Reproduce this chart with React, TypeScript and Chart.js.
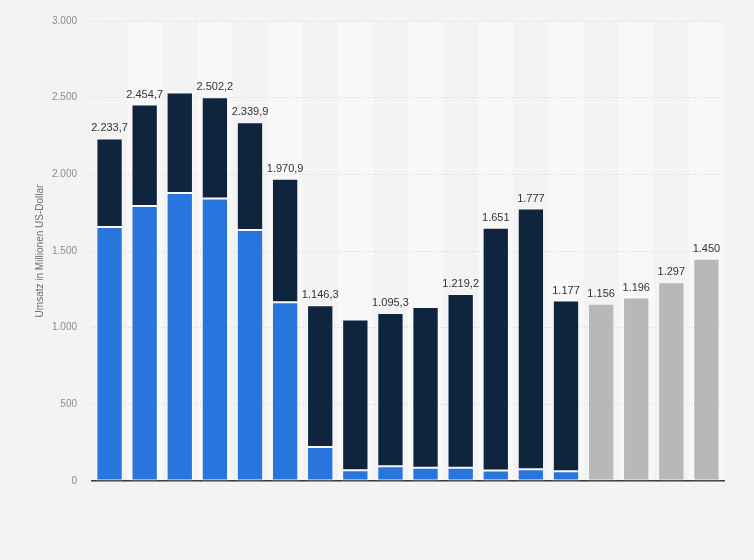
import React, { useEffect, useRef } from "react";
import { Chart, registerables } from "chart.js";

Chart.register(...registerables);

const categories = ["2005", "2006", "2007", "2008", "2009", "2010", "2011", "2012", "2013", "2014", "2015", "2016", "2017", "2018", "2019", "2020", "2021", "2022"];
const blueValues = [1657, 1793, 1878, 1842, 1637, 1165, 222, 70, 96, 87, 87, 68, 76, 63, null, null, null, null];
const totalValues = [2233.7, 2454.7, 2533, 2502.2, 2339.9, 1970.9, 1146.3, 1053, 1095.3, 1135, 1219.2, 1651, 1777, 1177, null, null, null, null];
const grayValues = [null, null, null, null, null, null, null, null, null, null, null, null, null, null, 1156, 1196, 1297, 1450];
const showLabel = [true, true, false, true, true, true, true, false, true, false, true, true, true, true, true, true, true, true];
const yTicks = [0, 500, 1000, 1500, 2000, 2500, 3000];

const darkValues = totalValues.map((t, i) => (t == null || blueValues[i] == null ? null : t - (blueValues[i] as number)));

function groupThousands(s: string): string {
  return s.replace(/\B(?=(\d{3})+(?!\d))/g, ".");
}
function formatDe(v: number): string {
  if (Number.isInteger(v)) return groupThousands(String(v));
  const [a, b] = v.toFixed(1).split(".");
  return groupThousands(a) + "," + b;
}

const FONT = "'Liberation Sans', Arial, Helvetica, sans-serif";

const backgroundPlugin = {
  id: "bgStripes",
  beforeDraw(chart: any) {
    const { ctx, chartArea, scales } = chart;
    ctx.save();
    ctx.fillStyle = "#f3f3f3";
    ctx.fillRect(0, 0, chart.width, chart.height);
    const x = scales.x;
    const n = categories.length;
    const w = (chartArea.right - chartArea.left) / n;
    ctx.fillStyle = "#f8f8f8";
    for (let i = 0; i < n; i++) {
      if (i % 2 === 1) {
        const cx = x.getPixelForValue(i);
        ctx.fillRect(cx - w / 2, chartArea.top, w, chartArea.bottom - chartArea.top);
      }
    }
    ctx.restore();
  },
};

const labelPlugin = {
  id: "barLabels",
  afterDatasetsDraw(chart: any) {
    const { ctx, scales } = chart;
    ctx.save();
    ctx.font = `11px ${FONT}`;
    ctx.fillStyle = "#333333";
    ctx.textAlign = "center";
    ctx.textBaseline = "alphabetic";
    for (let i = 0; i < categories.length; i++) {
      if (!showLabel[i]) continue;
      const v = totalValues[i] != null ? totalValues[i] : grayValues[i];
      if (v == null) continue;
      const px = scales.x.getPixelForValue(i);
      const py = scales.y.getPixelForValue(v);
      ctx.fillText(formatDe(v as number), px, py - 7);
    }
    ctx.restore();
  },
};

export default function App() {
  const canvasRef = useRef<HTMLCanvasElement | null>(null);

  useEffect(() => {
    document.body.style.margin = "0";
    document.body.style.background = "#f3f3f3";
    const canvas = canvasRef.current;
    if (!canvas) return;
    const common = { barPercentage: 0.75, categoryPercentage: 1, borderWidth: 1, borderSkipped: false };
    const chart = new Chart(canvas, {
      type: "bar",
      data: {
        labels: categories,
        datasets: [
          { label: "blue", data: blueValues, backgroundColor: "#2876dd", borderColor: "rgba(255,255,255,0.55)", ...common },
          { label: "dark", data: darkValues, backgroundColor: "#0f253d", borderColor: "rgba(255,255,255,0.45)", ...common },
          { label: "gray", data: grayValues, backgroundColor: "#b8b8b8", borderColor: "rgba(255,255,255,0.35)", ...common },
        ] as any,
      },
      options: {
        animation: false,
        responsive: false,
        devicePixelRatio: 1,
        layout: { padding: { left: 0, right: 30, top: 20, bottom: 79 } },
        plugins: { legend: { display: false }, tooltip: { enabled: false } },
        scales: {
          x: {
            stacked: true,
            grid: { display: false },
            ticks: { display: false },
            border: { display: true, color: "#3a3a3a", width: 1.5 },
            afterFit: (s: any) => {
              s.height = 0;
            },
          },
          y: {
            stacked: true,
            min: 0,
            max: 3000,
            afterBuildTicks: (s: any) => {
              s.ticks = yTicks.map((v) => ({ value: v }));
            },
            ticks: {
              color: "#8c8c8c",
              font: { family: FONT, size: 10 },
              padding: 15,
              callback: (v: any) => formatDe(Number(v)),
            },
            grid: { color: "#d6d6d6", drawTicks: false, lineWidth: 1 },
            border: { display: false, dash: [1, 2] },
            title: {
              display: true,
              text: "Umsatz in Millionen US-Dollar",
              color: "#707070",
              font: { family: FONT, size: 10 },
              padding: { top: 34, bottom: 0 },
            },
            afterFit: (s: any) => {
              s.width = 92;
            },
          },
        },
      },
      plugins: [backgroundPlugin, labelPlugin],
    } as any);
    return () => chart.destroy();
  }, []);

  return (
    <div style={{ width: 754, height: 560, background: "#f3f3f3" }}>
      <canvas ref={canvasRef} width={754} height={560} style={{ display: "block" }} />
    </div>
  );
}
